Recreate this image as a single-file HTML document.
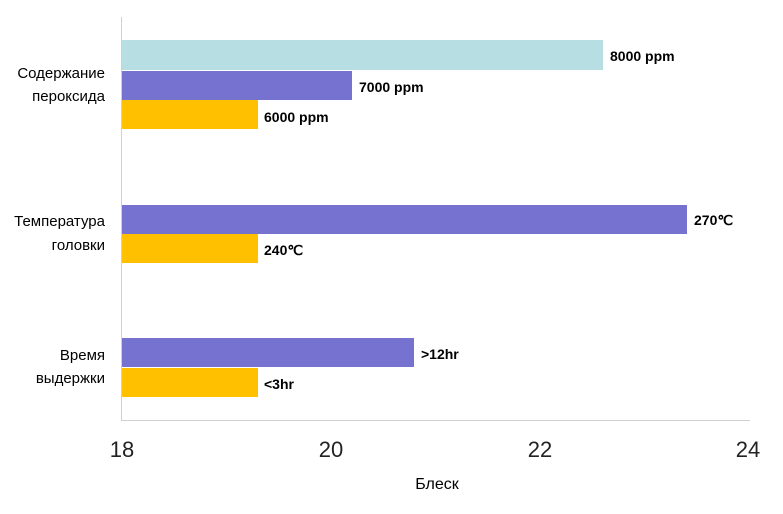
<!DOCTYPE html>
<html><head><meta charset="utf-8"><style>
body{margin:0;background:#fff;}
svg text{font-family:"Liberation Sans",sans-serif;}
</style></head><body>
<svg width="783" height="509" xmlns="http://www.w3.org/2000/svg">
<rect width="783" height="509" fill="#fff"/>
<line x1="121.5" y1="17" x2="121.5" y2="420" stroke="#d0d0d0" stroke-width="1"/>
<line x1="121" y1="420.5" x2="750" y2="420.5" stroke="#d0d0d0" stroke-width="1"/>
<rect x="122" y="40" width="481" height="30" fill="#b7dfe3"/>
<rect x="122" y="71" width="230" height="29" fill="#7673d0"/>
<rect x="122" y="100" width="136" height="29" fill="#ffc000"/>
<rect x="122" y="205" width="565" height="29" fill="#7673d0"/>
<rect x="122" y="234" width="136" height="29" fill="#ffc000"/>
<rect x="122" y="338" width="292" height="29" fill="#7673d0"/>
<rect x="122" y="368" width="136" height="29" fill="#ffc000"/>
<g font-size="14" font-weight="bold" fill="#000">
<text x="610" y="61">8000 ppm</text>
<text x="359" y="92">7000 ppm</text>
<text x="264" y="122">6000 ppm</text>
<text x="694" y="225">270℃</text>
<text x="264" y="255">240℃</text>
<text x="421" y="359">&gt;12hr</text>
<text x="264" y="389">&lt;3hr</text>
</g>
<g font-size="15" fill="#000" text-anchor="end">
<text x="105" y="78">Содержание</text>
<text x="105" y="101">пероксида</text>
<text x="105" y="226">Температура</text>
<text x="105" y="250">головки</text>
<text x="105" y="360">Время</text>
<text x="105" y="383">выдержки</text>
</g>
<g font-size="22" fill="#222" text-anchor="middle">
<text x="122" y="457">18</text>
<text x="331" y="457">20</text>
<text x="540" y="457">22</text>
<text x="748" y="457">24</text>
</g>
<text x="437" y="489" font-size="16" text-anchor="middle" fill="#000">Блеск</text>
</svg>
</body></html>
